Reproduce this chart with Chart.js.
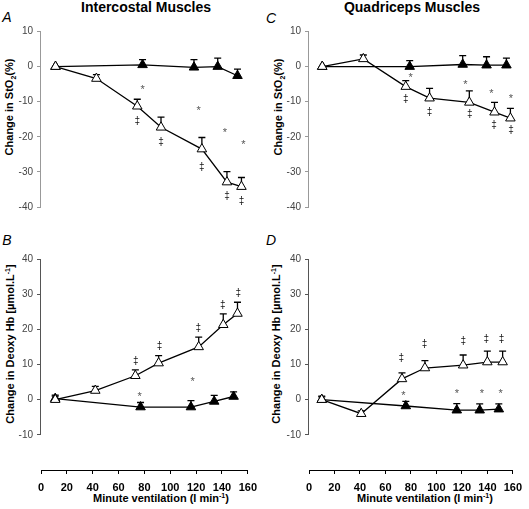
<!DOCTYPE html>
<html lang="en">
<head>
    <meta charset="UTF-8">
    <title>Intercostal vs Quadriceps Muscles</title>
    <script src="https://cdn.jsdelivr.net/npm/chart.js"></script>
    <style>
        body { margin: 0; background: #fff; font-family: 'Liberation Sans', Arial, sans-serif; }
        #wrap { position: relative; width: 529px; height: 509px; overflow: hidden; }
        .cv { position: absolute; }
        .txt { position: absolute; white-space: nowrap; color: #000; }
        .head { font-weight: bold; font-size: 14px; transform: translate(-50%, -50%); }
        .letter { font-style: italic; font-size: 14px; transform: translate(-50%, -50%); }
        .ytitle { font-weight: bold; font-size: 11px; transform: translate(-50%, -50%) rotate(-90deg); }
        .xtitle { font-weight: bold; font-size: 11px; transform: translate(-50%, -50%); }
        sub, sup { font-size: 7px; }
    </style>
</head>
<body>
<div id="wrap">
    <div class="txt head" style="left:146px;top:7px">Intercostal Muscles</div>
    <div class="txt head" style="left:412px;top:7px">Quadriceps Muscles</div>
    <div class="txt letter" style="left:7px;top:17px">A</div>
    <div class="txt letter" style="left:271px;top:18px">C</div>
    <div class="txt letter" style="left:7px;top:240px">B</div>
    <div class="txt letter" style="left:271px;top:240px">D</div>
    <div class="txt ytitle" style="left:10px;top:107px">Change in StO<sub>2</sub>(%)</div>
    <div class="txt ytitle" style="left:279px;top:107px">Change in StO<sub>2</sub>(%)</div>
    <div class="txt ytitle" style="left:10px;top:344px">Change in Deoxy Hb [µmol.L<sup>-1</sup>]</div>
    <div class="txt ytitle" style="left:276px;top:344px">Change in Deoxy Hb [µmol.L<sup>-1</sup>]</div>
    <div class="txt xtitle" style="left:161px;top:498px">Minute ventilation (l min<sup>-1</sup>)</div>
    <div class="txt xtitle" style="left:425px;top:498px">Minute ventilation (l min<sup>-1</sup>)</div>

    <canvas id="chartA" class="cv" style="left:0;top:20px" width="264" height="210"></canvas>
    <canvas id="chartC" class="cv" style="left:264px;top:20px" width="265" height="210"></canvas>
    <canvas id="chartB" class="cv" style="left:0;top:230px" width="264" height="279"></canvas>
    <canvas id="chartD" class="cv" style="left:264px;top:230px" width="265" height="279"></canvas>
</div>

<script>
    // minute ventilation (l/min) for each group
    const leftOpenX = [11, 42, 73, 91, 122, 141, 152];
    const leftFilledX = [11, 77, 116, 134, 149];
    const rightOpenX = [10, 41, 73, 91, 121, 140, 152];
    const rightFilledX = [10, 76, 116, 134, 149];
    const xTicks = [0, 20, 40, 60, 80, 100, 120, 140, 160];

    // A - intercostal StO2 (%)
    const stO2IntOpen = [0, -3.4, -11.3, -17.3, -23.5, -32.9, -34.2];
    const stO2IntOpenErr = [0, 1.1, 2.0, 2.9, 3.3, 3.0, 2.6];
    const stO2IntFilled = [0, 0.5, -0.2, 0, -2.6];
    const stO2IntFilledErr = [0, 1.5, 2.2, 2.4, 1.9];
    const starsA = [[77, -5.9], [119.5, -11.8], [139.5, -18], [153.5, -21.6]];
    const daggersA = [[73, -15.6], [91, -21.6], [122, -28.5], [141, -36.9], [152, -38.3]];

    // C - quadriceps StO2 (%)
    const stO2QuadOpen = [0, 2.2, -5.7, -9.0, -10.2, -13.0, -14.7];
    const stO2QuadOpenErr = [0, 1.1, 1.7, 2.8, 3.3, 2.8, 2.8];
    const stO2QuadFilled = [0, 0, 0.6, 0.4, 0.4];
    const stO2QuadFilledErr = [0, 1.7, 2.5, 2.4, 2.0];
    const starsC = [[76.7, -2.3], [118, -4.3], [137.6, -6.9], [152.4, -8.5]];
    const daggersC = [[73, -9.2], [91, -12.9], [121.4, -13.5], [139.7, -16.6], [152.4, -18.1]];

    // B - intercostal deoxy Hb (umol/L)
    const deoxyIntOpen = [0, 2.6, 6.8, 10.4, 15.0, 21.3, 24.5];
    const deoxyIntOpenErr = [1.0, 1.2, 1.7, 2.1, 2.8, 3.1, 3.2];
    const deoxyIntFilled = [0.3, -2.1, -2.1, -0.5, 0.9];
    const deoxyIntFilledErr = [1.0, 1.3, 1.8, 1.7, 1.3];
    const starsB = [[76.4, 1.7], [117.3, 5.9]];
    const daggersB = [[73.4, 11.1], [91.7, 15.2], [121.7, 20.4], [140.7, 27], [152.6, 30.3]];

    // D - quadriceps deoxy Hb (umol/L)
    const deoxyQuadOpen = [0, -4.0, 5.9, 9.0, 9.8, 10.7, 10.7];
    const deoxyQuadOpenErr = [1.0, 0.8, 1.7, 2.1, 2.9, 3.1, 3.1];
    const deoxyQuadFilled = [0, -1.8, -3.0, -3.0, -2.7];
    const deoxyQuadFilledErr = [0.8, 1.3, 1.9, 1.8, 1.5];
    const starsD = [[74.1, 1.9], [116, 2.6], [135.8, 2.6], [150.5, 2.6]];
    const daggersD = [[72.4, 11.8], [90.7, 15.8], [121.1, 16.8], [139.1, 17.3], [151.1, 17.3]];

    const toPoints = (xs, ys) => xs.map((x, i) => ({ x: x, y: ys[i] }));

    // error bars (upward only), significance marks and the short y axis line
    const extras = {
        id: 'extras',
        beforeDatasetsDraw(chart) {
            const ctx = chart.ctx;
            const ys = chart.scales.y;
            ctx.save();
            ctx.strokeStyle = '#000';
            ctx.lineWidth = 1.3;
            chart.data.datasets.forEach((ds, i) => {
                const meta = chart.getDatasetMeta(i);
                meta.data.forEach((pt, j) => {
                    const e = ds.errors[j];
                    if (!e) return;
                    const top = ys.getPixelForValue(ds.data[j].y + e);
                    ctx.beginPath();
                    ctx.moveTo(pt.x, pt.y);
                    ctx.lineTo(pt.x, top);
                    ctx.moveTo(pt.x - 3.5, top);
                    ctx.lineTo(pt.x + 3.5, top);
                    ctx.stroke();
                });
            });
            ctx.restore();
        },
        afterDatasetsDraw(chart, args, opts) {
            const ctx = chart.ctx;
            const xs = chart.scales.x, ys = chart.scales.y;
            ctx.save();
            ctx.textAlign = 'center';
            ctx.textBaseline = 'alphabetic';
            ctx.font = '11px "Liberation Sans", Arial';
            ctx.fillStyle = '#555';
            opts.stars.forEach(p => {
                ctx.fillText('*', xs.getPixelForValue(p[0]), ys.getPixelForValue(p[1]) + 6);
            });
            ctx.font = '10px "Liberation Sans", Arial';
            ctx.fillStyle = '#111';
            opts.daggers.forEach(p => {
                ctx.fillText('‡', xs.getPixelForValue(p[0]), ys.getPixelForValue(p[1]) + 3);
            });
            // y axis line
            ctx.strokeStyle = opts.axisColor;
            ctx.lineWidth = 1;
            const xl = Math.round(chart.chartArea.left) - 0.5;
            ctx.beginPath();
            ctx.moveTo(xl, ys.getPixelForValue(opts.yTop));
            ctx.lineTo(xl, ys.getPixelForValue(opts.yBottom));
            ctx.stroke();
            ctx.restore();
        }
    };

    function makePanel(id, cfg) {
        const bottom = cfg.bottom;
        new Chart(document.getElementById(id), {
            type: 'scatter',
            data: {
                datasets: [
                    {
                        data: toPoints(cfg.openX, cfg.open),
                        errors: cfg.openErr,
                        showLine: true,
                        borderColor: '#000',
                        borderWidth: 1.3,
                        pointStyle: 'triangle',
                        pointRadius: 5.5,
                        pointBackgroundColor: '#fff',
                        pointBorderColor: '#000',
                        pointBorderWidth: 1
                    },
                    {
                        data: toPoints(cfg.filledX, cfg.filled),
                        errors: cfg.filledErr,
                        showLine: true,
                        borderColor: '#000',
                        borderWidth: 1.3,
                        pointStyle: 'triangle',
                        pointRadius: 5.5,
                        pointBackgroundColor: '#000',
                        pointBorderColor: '#000',
                        pointBorderWidth: 1
                    }
                ]
            },
            options: {
                responsive: false,
                animation: false,
                layout: { padding: { left: 0, right: cfg.padRight, top: cfg.padTop, bottom: cfg.padBottom } },
                plugins: {
                    legend: { display: false },
                    tooltip: { enabled: false },
                    extras: {
                        stars: cfg.stars,
                        daggers: cfg.daggers,
                        yTop: cfg.yMax,
                        yBottom: bottom ? -10 : cfg.yMin,
                        axisColor: bottom ? '#555' : '#999'
                    }
                },
                scales: {
                    x: {
                        type: 'linear',
                        display: bottom,
                        min: 0,
                        max: 160,
                        afterBuildTicks: s => { s.ticks = xTicks.map(v => ({ value: v })); },
                        afterFit: s => { s.height = bottom ? 39 : 0; },
                        border: { color: '#000', width: 1 },
                        grid: { drawOnChartArea: false, tickLength: 4, tickColor: '#000' },
                        ticks: { color: '#000', padding: 7, font: { family: 'Liberation Sans', size: 11, weight: 'bold' } }
                    },
                    y: {
                        min: cfg.yMin,
                        max: cfg.yMax,
                        afterBuildTicks: s => { s.ticks = cfg.yTicks.map(v => ({ value: v })); },
                        afterFit: s => { s.width = cfg.yWidth; },
                        border: { display: false },
                        grid: { drawOnChartArea: false, tickLength: 4, tickColor: bottom ? '#555' : '#999' },
                        ticks: { color: '#444', padding: 4, font: { family: 'Liberation Sans', size: 10 } }
                    }
                }
            },
            plugins: [extras]
        });
    }

    const stTicks = [10, 0, -10, -20, -30, -40];
    const dxTicks = [40, 30, 20, 10, 0, -10];

    makePanel('chartA', {
        openX: leftOpenX, open: stO2IntOpen, openErr: stO2IntOpenErr,
        filledX: leftFilledX, filled: stO2IntFilled, filledErr: stO2IntFilledErr,
        stars: starsA, daggers: daggersA, bottom: false,
        yMin: -40, yMax: 10, yTicks: stTicks, yWidth: 41,
        padTop: 11.5, padBottom: 23, padRight: 12
    });
    makePanel('chartC', {
        openX: rightOpenX, open: stO2QuadOpen, openErr: stO2QuadOpenErr,
        filledX: rightFilledX, filled: stO2QuadFilled, filledErr: stO2QuadFilledErr,
        stars: starsC, daggers: daggersC, bottom: false,
        yMin: -40, yMax: 10, yTicks: stTicks, yWidth: 45,
        padTop: 11.5, padBottom: 23, padRight: 8
    });
    makePanel('chartB', {
        openX: leftOpenX, open: deoxyIntOpen, openErr: deoxyIntOpenErr,
        filledX: leftFilledX, filled: deoxyIntFilled, filledErr: deoxyIntFilledErr,
        stars: starsB, daggers: daggersB, bottom: true,
        yMin: -20, yMax: 40, yTicks: dxTicks, yWidth: 41,
        padTop: 29, padBottom: 0, padRight: 12
    });
    makePanel('chartD', {
        openX: rightOpenX, open: deoxyQuadOpen, openErr: deoxyQuadOpenErr,
        filledX: rightFilledX, filled: deoxyQuadFilled, filledErr: deoxyQuadFilledErr,
        stars: starsD, daggers: daggersD, bottom: true,
        yMin: -20, yMax: 40, yTicks: dxTicks, yWidth: 45,
        padTop: 29, padBottom: 0, padRight: 8
    });
</script>
</body>
</html>
